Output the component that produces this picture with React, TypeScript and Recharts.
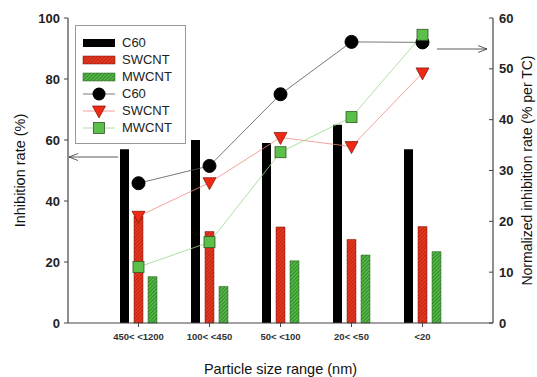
import React from 'react';
import { ComposedChart, Bar, Line, XAxis, YAxis, Label } from 'recharts';

const categories = ['450< <1200', '100< <450', '50< <100', '20< <50', '<20'];

// inhibition rate (%), left axis
const c60Bar = [57, 60, 59, 65, 57];
const swcntBar = [35, 30, 31.5, 27.4, 31.6];
const mwcntBar = [15.2, 12, 20.4, 22.3, 23.4];

// normalized inhibition rate (% per TC), right axis
const c60Line = [27.5, 30.9, 45.0, 55.3, 55.2];
const swcntLine = [21, 27.6, 36.5, 34.7, 49.2];
const mwcntLine = [11, 15.9, 33.6, 40.5, 56.7];

const leftTicks = [0, 20, 40, 60, 80, 100];
const rightTicks = [0, 10, 20, 30, 40, 50, 60];

const data = categories.map((name, i) => ({
  name,
  c60Bar: c60Bar[i],
  swcntBar: swcntBar[i],
  mwcntBar: mwcntBar[i],
  c60Line: c60Line[i],
  swcntLine: swcntLine[i],
  mwcntLine: mwcntLine[i],
}));

const FONT = '"Liberation Sans", Arial, sans-serif';

const Circle = (p: any) => (
  <circle key={p.index} cx={p.cx} cy={p.cy} r={6.5} fill="#000" stroke="#000" />
);

const Triangle = (p: any) => {
  const { cx, cy } = p;
  return (
    <polygon
      key={p.index}
      points={`${cx - 6.5},${cy - 5} ${cx + 6.5},${cy - 5} ${cx},${cy + 7}`}
      fill="#ee2a14"
      stroke="#7a1208"
      strokeWidth={0.7}
    />
  );
};

const Square = (p: any) => (
  <rect key={p.index} x={p.cx - 5.5} y={p.cy - 5.5} width={11} height={11} fill="#5cbf4a" stroke="#2d5a22" strokeWidth={0.8} />
);

function LegendBox() {
  const rows: { label: string; icon: React.ReactNode }[] = [
    { label: 'C60', icon: <rect x={0} y={4} width={32} height={8} fill="#000" /> },
    { label: 'SWCNT', icon: <rect x={0} y={4} width={32} height={8} fill="url(#hatchRed)" stroke="#7a1208" strokeWidth={0.5} /> },
    { label: 'MWCNT', icon: <rect x={0} y={4} width={32} height={8} fill="url(#hatchGreen)" stroke="#2d5a22" strokeWidth={0.5} /> },
    {
      label: 'C60',
      icon: (
        <g>
          <line x1={0} y1={8} x2={32} y2={8} stroke="#555" strokeWidth={0.8} />
          <circle cx={16} cy={8} r={6.5} fill="#000" />
        </g>
      ),
    },
    {
      label: 'SWCNT',
      icon: (
        <g>
          <line x1={0} y1={8} x2={32} y2={8} stroke="#f08a80" strokeWidth={0.8} />
          <polygon points="9.5,3 22.5,3 16,15" fill="#ee2a14" stroke="#7a1208" strokeWidth={0.7} />
        </g>
      ),
    },
    {
      label: 'MWCNT',
      icon: (
        <g>
          <line x1={0} y1={8} x2={32} y2={8} stroke="#9ad88e" strokeWidth={0.8} />
          <rect x={10.5} y={2.5} width={11} height={11} fill="#5cbf4a" stroke="#2d5a22" strokeWidth={0.8} />
        </g>
      ),
    },
  ];
  return (
    <div
      style={{
        position: 'absolute',
        left: 75,
        top: 25,
        width: 111,
        height: 119,
        border: '1px solid #999',
        background: '#fff',
        boxSizing: 'border-box',
        padding: '8px 0 0 7px',
        fontFamily: FONT,
        fontSize: 13,
        color: '#222',
      }}
    >
      {rows.map((r, i) => (
        <div key={i} style={{ display: 'flex', alignItems: 'center', height: 17 }}>
          <svg width={34} height={16} style={{ marginRight: 5, overflow: 'visible' }}>
            {r.icon}
          </svg>
          <span>{r.label}</span>
        </div>
      ))}
    </div>
  );
}

export default function App() {
  return (
    <div style={{ position: 'absolute', left: 0, top: 0, width: 537, height: 377, background: '#fff' }}>
      <ComposedChart
        width={537}
        height={377}
        data={data}
        margin={{ top: 18, right: 0, bottom: 0, left: 0 }}
        barSize={9}
        barGap={5}
      >
        <defs>
          <pattern id="hatchRed" patternUnits="userSpaceOnUse" width={2.6} height={2.6} patternTransform="rotate(45)">
            <rect width={2.6} height={2.6} fill="#e8361f" />
            <line x1={0} y1={0} x2={0} y2={2.6} stroke="#8a1a0c" strokeWidth={1} />
          </pattern>
          <pattern id="hatchGreen" patternUnits="userSpaceOnUse" width={2.6} height={2.6} patternTransform="rotate(45)">
            <rect width={2.6} height={2.6} fill="#52b845" />
            <line x1={0} y1={0} x2={0} y2={2.6} stroke="#1f5a18" strokeWidth={1} />
          </pattern>
          <marker id="arrowOpen" markerWidth={10} markerHeight={8} refX={9} refY={4} orient="auto" markerUnits="userSpaceOnUse">
            <path d="M0,0.5 L9,4 L0,7.5" fill="none" stroke="#333" strokeWidth={0.8} />
          </marker>
        </defs>
        <XAxis
          dataKey="name"
          height={54}
          padding={{ left: 35, right: 35 }}
          axisLine={{ stroke: '#444', strokeWidth: 1.2 }}
          tickLine={{ stroke: '#444' }}
          tickSize={4}
          tickMargin={6}
          tick={{ fontSize: 9.5, fontWeight: 'bold', fill: '#333', fontFamily: FONT }}
          interval={0}
        >
          <Label
            value="Particle size range (nm)"
            position="center"
            dy={19}
            style={{ fontSize: 14.5, fill: '#111', fontFamily: FONT }}
          />
        </XAxis>
        <XAxis xAxisId="top" orientation="top" dataKey="name" height={0} tick={false} tickLine={false} axisLine={{ stroke: '#888' }} />
        <YAxis
          yAxisId="left"
          width={68}
          domain={[0, 100]}
          ticks={leftTicks}
          interval={0}
          axisLine={{ stroke: '#444', strokeWidth: 1.2 }}
          tickLine={{ stroke: '#444' }}
          tickSize={4}
          tickMargin={4}
          tick={{ fontSize: 13, fontWeight: 'bold', fill: '#222', fontFamily: FONT }}
        >
          <Label
            value="Inhibition rate (%)"
            angle={-90}
            position="center"
            dx={-14}
            style={{ fontSize: 14.5, fill: '#111', fontFamily: FONT, textAnchor: 'middle' }}
          />
        </YAxis>
        <YAxis
          yAxisId="right"
          orientation="right"
          width={44}
          domain={[0, 60]}
          ticks={rightTicks}
          interval={0}
          axisLine={{ stroke: '#444', strokeWidth: 1.2 }}
          tickLine={{ stroke: '#444' }}
          tickSize={-4}
          tickMargin={10}
          tick={{ fontSize: 13, fontWeight: 'bold', fill: '#222', fontFamily: FONT }}
        >
          <Label
            value="Normalized inhibition rate (% per TC)"
            angle={-90}
            position="center"
            dx={12}
            style={{ fontSize: 14, fill: '#111', fontFamily: FONT, textAnchor: 'middle' }}
          />
        </YAxis>
        <Bar yAxisId="left" dataKey="c60Bar" fill="#000" isAnimationActive={false} />
        <Bar yAxisId="left" dataKey="swcntBar" fill="url(#hatchRed)" stroke="#7a1208" strokeWidth={0.5} isAnimationActive={false} />
        <Bar yAxisId="left" dataKey="mwcntBar" fill="url(#hatchGreen)" stroke="#2d5a22" strokeWidth={0.5} isAnimationActive={false} />
        <Line yAxisId="right" dataKey="c60Line" stroke="#555" strokeWidth={0.8} dot={Circle} activeDot={false} isAnimationActive={false} />
        <Line yAxisId="right" dataKey="swcntLine" stroke="#f08a80" strokeWidth={0.8} dot={Triangle} activeDot={false} isAnimationActive={false} />
        <Line yAxisId="right" dataKey="mwcntLine" stroke="#9ad88e" strokeWidth={0.8} dot={Square} activeDot={false} isAnimationActive={false} />
        {/* arrows pointing each line family to its axis */}
        <line x1={118} y1={157} x2={69} y2={157} stroke="#333" strokeWidth={0.8} markerEnd="url(#arrowOpen)" />
        <line x1={437} y1={49} x2={487} y2={49} stroke="#333" strokeWidth={0.8} markerEnd="url(#arrowOpen)" />
      </ComposedChart>
      <LegendBox />
    </div>
  );
}
